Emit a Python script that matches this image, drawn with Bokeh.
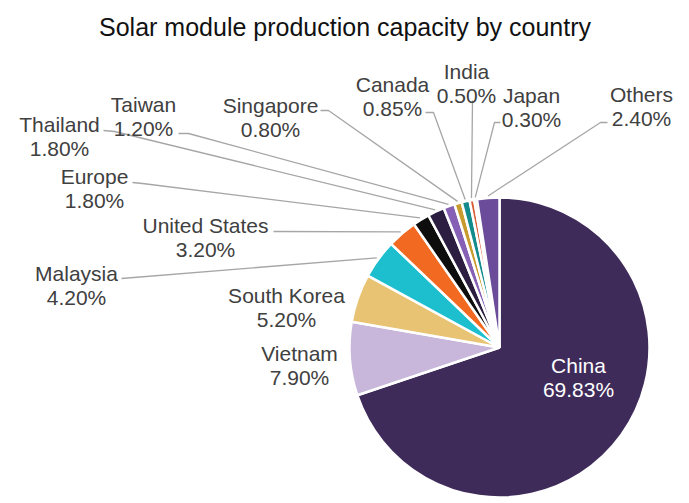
import math
from bokeh.plotting import figure
from bokeh.models import ColumnDataSource, Range1d
from bokeh.embed import file_html
from bokeh.resources import INLINE
from bokeh.core.properties import value

# ---- data ----
countries = ["China", "Vietnam", "South Korea", "Malaysia", "United States", "Europe",
             "Thailand", "Taiwan", "Singapore", "Canada", "India", "Japan", "Others"]
shares = [69.83, 7.90, 5.20, 4.20, 3.20, 1.80, 1.80, 1.20, 0.80, 0.85, 0.50, 0.30, 2.40]
colors = ["#3e2b5a", "#c8b7db", "#e8c373", "#1dbfcf", "#f26a21", "#0d0d0d",
          "#2b1e40", "#8560b5", "#c99a2e", "#138a8c", "#d9603b", "#ddd3c4", "#6b4c9a"]
title_text = "Solar module production capacity by country"

# ---- layout (pixel coordinates, y measured from top) ----
W, H = 689, 503
CX, CY, R = 499, 347, 150
# centre of the percentage line of each label
lab_x = [578, 299, 286, 76, 205, 94, 59, 143, 270, 392, 466, 531, 641]
pct_y = [389, 377, 319, 297, 249, 200, 148, 128, 129, 108, 95, 119, 118]
# leader line start point and stub end (None = no leader)
lead_start = [None, None, None, (121, 278), (273, 231), (132, 182), (103, 130),
              (178, 133), (320, 110), (425, 112), (472, 100), (500, 122), (607, 122)]
lead_stub = [None, None, None, None, None, (142, 183), (114, 131),
             (188, 133), (328, 110), (433, 112), None, (494, 122), (600, 122)]


def Y(y):
    return H - y


total = sum(shares)
starts, ends, mids = [], [], []
cum = 0.0
for s in shares:
    a0 = math.pi / 2 - 2 * math.pi * cum / total
    cum += s
    a1 = math.pi / 2 - 2 * math.pi * cum / total
    starts.append(a0)
    ends.append(a1)
    mids.append((a0 + a1) / 2)

p = figure(width=W, height=H, x_range=Range1d(0, W), y_range=Range1d(0, H),
           output_backend="svg", toolbar_location=None, min_border=0)
p.axis.visible = False
p.grid.visible = False
p.outline_line_color = None
p.background_fill_color = "white"

src = ColumnDataSource(dict(x=[CX] * len(shares), y=[Y(CY)] * len(shares),
                            start=starts, end=ends, color=colors, name=countries))
p.wedge(x="x", y="y", radius=R, start_angle="start", end_angle="end",
        direction="clock", fill_color="color", line_color="white", line_width=2.5,
        source=src)

# leader lines
xs, ys = [], []
for i in range(len(countries)):
    if lead_start[i] is None:
        continue
    ex = CX + (R + 2) * math.cos(mids[i])
    ey = Y(CY) + (R + 2) * math.sin(mids[i])
    px = [lead_start[i][0]]
    py = [Y(lead_start[i][1])]
    if lead_stub[i] is not None:
        px.append(lead_stub[i][0])
        py.append(Y(lead_stub[i][1]))
    px.append(ex)
    py.append(ey)
    xs.append(px)
    ys.append(py)
p.multi_line(xs=xs, ys=ys, line_color="#a6a6a6", line_width=1.3)

# labels
names_x, names_y, pcts_y, pct_txt, tcol = [], [], [], [], []
for i, c in enumerate(countries):
    names_x.append(lab_x[i])
    names_y.append(Y(pct_y[i] - 24))
    pcts_y.append(Y(pct_y[i]))
    pct_txt.append(f"{shares[i]:.2f}%")
    tcol.append("white" if i == 0 else "#404040")

lsrc = ColumnDataSource(dict(x=names_x, yn=names_y, yp=pcts_y, name=countries,
                             pct=pct_txt, col=tcol))
p.text(x="x", y="yn", text="name", text_color="col", text_align="center",
       text_baseline="middle", text_font=value("Liberation Sans"),
       text_font_size="21px", source=lsrc)
p.text(x="x", y="yp", text="pct", text_color="col", text_align="center",
       text_baseline="middle", text_font=value("Liberation Sans"),
       text_font_size="21px", source=lsrc)

p.text(x=[W / 2], y=[Y(26)], text=[title_text], text_color="#111111",
       text_align="center", text_baseline="middle",
       text_font=value("Liberation Sans"), text_font_size="25px")

open("out.html", "w").write(file_html(p, INLINE))
